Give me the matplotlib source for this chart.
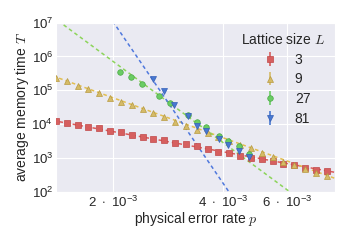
import numpy as np
import matplotlib
matplotlib.use("Agg")
import matplotlib.pyplot as plt
import seaborn as sns
from matplotlib.ticker import FixedLocator, FixedFormatter, NullFormatter, NullLocator

sns.set_style("darkgrid")
plt.rcParams['font.family'] = ['Liberation Sans', 'DejaVu Sans']
plt.rcParams['mathtext.fontset'] = 'cm'
plt.rcParams['font.size'] = 10

# ---------------- data ----------------
lattice_sizes = ["3", "9", "27", "81"]

p_small = [1.400, 1.499, 1.604, 1.717, 1.838, 1.968, 2.107, 2.255, 2.414, 2.584,
           2.767, 2.962, 3.170, 3.394, 3.633, 3.890, 4.164, 4.457, 4.771, 5.108,
           5.468, 5.853, 6.266, 6.707, 7.180, 7.686]  # in units of 1e-3

T_L3 = [12400, 10800, 9660, 8260, 7560, 6180, 5770, 4800, 4280, 3660,
        3350, 2850, 2550, 2230, 1820, 1550, 1440, 1180, 1040, 940,
        805, 670, 613, 521, 446, 408]

T_L9 = [235600, 188000, 134000, 107000, 84900, 60500, 45200, 36100, 28700, 21000,
        16000, 11400, 9160, 6750, 5690, 4340, 3300, 2520, 1950, 1370,
        1080, 783, 614, 477, 371, 296]

p_L27 = [2.093, 2.248, 2.409, 2.682, 2.866, 3.206, 3.402, 3.608, 3.903, 4.120, 4.415, 4.724]
T_L27 = [359000, 247000, 151000, 66500, 41400, 19300, 12000, 8110, 4490, 3260, 2270, 1320]

p_L81 = [2.582, 2.756, 2.948, 3.206, 3.402, 3.608, 3.903, 4.120, 4.415, 4.724]
T_L81 = [220000, 95300, 36100, 17800, 9160, 6100, 3590, 2430, 1620, 1100]

# power-law guide lines: log10 T = intercept + slope * log10 p
fit_slope = [-1.984, -3.921, -7.97, -15.86]
fit_intercept = [-1.570, -5.799, -15.649, -35.765]

x_ticks = [2e-3, 4e-3, 6e-3]
x_tick_labels = [r"$\mathdefault{2}\ \cdot\ \mathdefault{10^{-3}}$",
                 r"$\mathdefault{4}\ \cdot\ \mathdefault{10^{-3}}$",
                 r"$\mathdefault{6}\ \cdot\ \mathdefault{10^{-3}}$"]

# ---------------- styling ----------------
colors = ["#D65F5F", "#D5BB67", "#6ACC64", "#4878D0"]
line_colors = ["#DD5A5A", "#E2BE50", "#8CD45A", "#4F78DD"]
edge_colors = ["#c04848", "#b89a40", "#4aa844", "#3560b8"]
markers = ["s", "^", "o", "v"]

fig = plt.figure(figsize=(3.49, 2.40), dpi=100)
ax = fig.add_axes([0.1605, 0.2, 0.7995, 0.706])
ax.set_xscale("log")
ax.set_yscale("log")
xlim = (1.4e-3, 8.1e-3)
ax.set_xlim(*xlim)
ax.set_ylim(1e2, 1e7)

series = [
    (np.array(p_small) * 1e-3, np.array(T_L3)),
    (np.array(p_small) * 1e-3, np.array(T_L9)),
    (np.array(p_L27) * 1e-3, np.array(T_L27)),
    (np.array(p_L81) * 1e-3, np.array(T_L81)),
]

pg = np.geomspace(xlim[0] * 0.98, xlim[1] * 1.02, 200)
for i in range(4):
    ax.plot(pg, 10 ** (fit_intercept[i] + fit_slope[i] * np.log10(pg)),
            ls=(0, (2.4, 2.0)), lw=1.1, color=line_colors[i], zorder=2)

for i, (p, T) in enumerate(series):
    ax.errorbar(p, T, yerr=np.zeros_like(T, dtype=float), fmt=markers[i],
                color=colors[i], mec=edge_colors[i], mew=0.5, ms=4.0,
                elinewidth=1.2, capsize=0, label=lattice_sizes[i], zorder=3 + i)

ax.xaxis.set_major_locator(FixedLocator(x_ticks))
ax.xaxis.set_major_formatter(FixedFormatter(x_tick_labels))
ax.xaxis.set_minor_locator(NullLocator())
ax.xaxis.set_minor_formatter(NullFormatter())
ax.yaxis.set_minor_locator(NullLocator())
ax.tick_params(axis='both', which='both', length=0, labelsize=9.5, pad=2)

ax.set_xlabel(r"physical error rate $p$", fontsize=10, labelpad=0)
ax.set_ylabel(r"average memory time $T$", fontsize=10, labelpad=0.5)

leg = ax.legend(title=r"Lattice size $L$", loc="upper right", frameon=False,
                fontsize=10, title_fontsize=10, handlelength=2.0,
                labelspacing=0.4, alignment="center", borderaxespad=0.3)

fig.savefig("out.png", dpi=100)
